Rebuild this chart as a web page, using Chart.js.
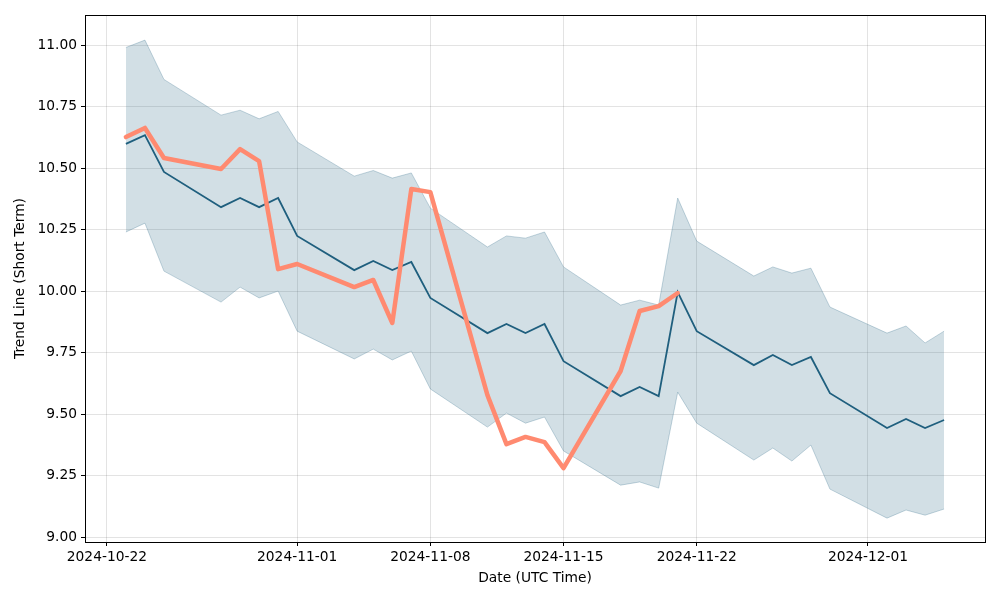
<!DOCTYPE html>
<html>
<head>
<meta charset="utf-8">
<script src="https://cdn.jsdelivr.net/npm/chart.js@4/dist/chart.umd.min.js"></script>
<style>
  html, body { margin: 0; padding: 0; background: #fff; }
</style>
</head>
<body>
<canvas id="trendChart" width="1000" height="600"></canvas>
<script>
const dates = ['2024-10-23', '2024-10-24', '2024-10-25', '2024-10-28', '2024-10-29', '2024-10-30', '2024-10-31',
    '2024-11-01', '2024-11-04', '2024-11-05', '2024-11-06', '2024-11-07', '2024-11-08', '2024-11-11',
    '2024-11-12', '2024-11-13', '2024-11-14', '2024-11-15', '2024-11-18', '2024-11-19', '2024-11-20',
    '2024-11-21', '2024-11-22', '2024-11-25', '2024-11-26', '2024-11-27', '2024-11-28', '2024-11-29',
    '2024-12-02', '2024-12-03', '2024-12-04', '2024-12-05'];

const trendMid = [10.598, 10.634, 10.484, 10.341, 10.378, 10.341, 10.378,
    10.224, 10.085, 10.122, 10.085, 10.118, 9.972, 9.829,
    9.866, 9.829, 9.866, 9.715, 9.573, 9.610, 9.573,
    9.996, 9.837, 9.699, 9.740, 9.699, 9.732, 9.585,
    9.443, 9.480, 9.443, 9.476];

const trendUpper = [10.99, 11.02, 10.86, 10.715, 10.735, 10.70, 10.73,
    10.606, 10.467, 10.49, 10.459, 10.48, 10.337, 10.179,
    10.224, 10.215, 10.24, 10.098, 9.943, 9.963, 9.943,
    10.378, 10.203, 10.061, 10.098, 10.073, 10.093, 9.935,
    9.829, 9.858, 9.789, 9.837];

const trendLower = [10.24, 10.276, 10.081, 9.955, 10.016, 9.972, 10.0,
    9.837, 9.724, 9.764, 9.72, 9.756, 9.602, 9.447,
    9.504, 9.463, 9.488, 9.35, 9.211, 9.224, 9.199,
    9.589, 9.463, 9.313, 9.362, 9.309, 9.374, 9.195,
    9.077, 9.11, 9.089, 9.114];

const priceDates = dates.slice(0, 22);
const price = [10.626, 10.663, 10.541, 10.496, 10.577, 10.528, 10.089,
    10.11, 10.016, 10.045, 9.870, 10.415, 10.402, 9.577,
    9.378, 9.407, 9.386, 9.280, 9.675, 9.919, 9.939, 9.992];

const xTickLabels = ['2024-10-22', '2024-11-01', '2024-11-08', '2024-11-15', '2024-11-22', '2024-12-01'];
const yTickLabels = [9.00, 9.25, 9.50, 9.75, 10.00, 10.25, 10.50, 10.75, 11.00];

const toMs = s => Date.parse(s + 'T00:00:00Z');
const DAY = 86400000;
const pts = (xs, ys) => xs.map((d, i) => ({ x: toMs(d), y: ys[i] }));

const frameBox = {
    id: 'frameBox',
    afterDraw(chart) {
        const a = chart.chartArea, ctx = chart.ctx;
        ctx.save();
        ctx.strokeStyle = '#000';
        ctx.lineWidth = 1;
        ctx.strokeRect(Math.round(a.left) + 0.5, Math.round(a.top) + 0.5,
            Math.round(a.right - a.left), Math.round(a.bottom - a.top));
        ctx.restore();
    }
};

Chart.defaults.font.family = 'DejaVu Sans';
Chart.defaults.font.size = 13.8;
Chart.defaults.color = '#000';

new Chart(document.getElementById('trendChart'), {
    type: 'line',
    data: {
        datasets: [
            {
                label: 'Upper',
                data: pts(dates, trendUpper),
                borderColor: 'rgba(31, 95, 126, 0.25)',
                borderWidth: 1,
                backgroundColor: 'rgba(31, 95, 126, 0.2)',
                fill: '+1',
                pointRadius: 0,
                tension: 0,
                order: 3
            },
            {
                label: 'Lower',
                data: pts(dates, trendLower),
                borderColor: 'rgba(31, 95, 126, 0.25)',
                borderWidth: 1,
                fill: false,
                pointRadius: 0,
                tension: 0,
                order: 2
            },
            {
                label: 'Trend',
                data: pts(dates, trendMid),
                borderColor: '#1f5f7e',
                borderWidth: 1.8,
                fill: false,
                pointRadius: 0,
                tension: 0,
                order: 1
            },
            {
                label: 'Price',
                data: pts(priceDates, price),
                borderColor: '#ff8a70',
                borderWidth: 4.5,
                fill: false,
                pointRadius: 0,
                tension: 0,
                borderJoinStyle: 'round',
                borderCapStyle: 'round',
                order: 0
            }
        ]
    },
    options: {
        responsive: false,
        animation: false,
        layout: { padding: { top: 15, right: 15, left: 0, bottom: 0 } },
        plugins: {
            legend: { display: false },
            tooltip: { enabled: false }
        },
        scales: {
            x: {
                type: 'linear',
                min: toMs('2024-10-23') - 2.15 * DAY,
                max: toMs('2024-12-05') + 2.15 * DAY,
                afterBuildTicks: axis => { axis.ticks = xTickLabels.map(s => ({ value: toMs(s) })); },
                afterFit: axis => { axis.height = 58; },
                ticks: {
                    padding: 3,
                    maxRotation: 0,
                    callback: v => new Date(v).toISOString().slice(0, 10)
                },
                grid: { color: 'rgba(0,0,0,0.11)', tickColor: '#000', tickLength: 4 },
                border: { display: false },
                title: { display: true, text: 'Date (UTC Time)', padding: { top: 13, bottom: 13 } }
            },
            y: {
                min: 8.98,
                max: 11.122,
                afterBuildTicks: axis => { axis.ticks = yTickLabels.map(v => ({ value: v })); },
                afterFit: axis => { axis.width = 85; },
                ticks: {
                    padding: 4,
                    callback: v => v.toFixed(2)
                },
                grid: { color: 'rgba(0,0,0,0.11)', tickColor: '#000', tickLength: 4 },
                border: { display: false },
                title: { display: true, text: 'Trend Line (Short Term)', padding: { top: 12, bottom: 12 } }
            }
        }
    },
    plugins: [frameBox]
});
</script>
</body>
</html>
